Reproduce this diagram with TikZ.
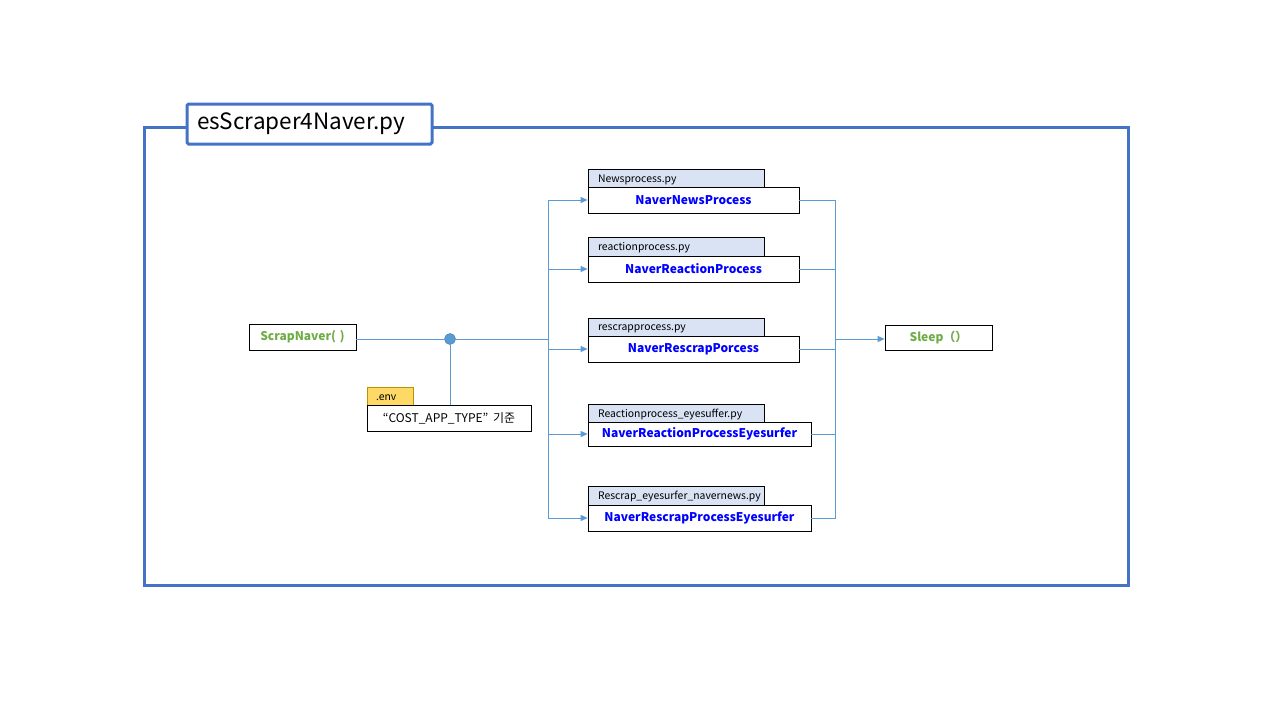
\documentclass[tikz,border=0pt]{standalone}
\usepackage{fontspec}
\setmainfont{Noto Sans CJK KR}
\usetikzlibrary{arrows.meta}
\definecolor{frameblue}{HTML}{4472C4}
\definecolor{lineblue}{HTML}{5B9BD5}
\definecolor{tabfill}{HTML}{DAE3F3}
\definecolor{envfill}{HTML}{FFD966}
\definecolor{envdraw}{HTML}{BF9000}
\definecolor{fgreen}{HTML}{70AD47}
\definecolor{fblue}{HTML}{0000FF}
\tikzset{
  conn/.style={draw=lineblue, line width=0.9pt},
  arr/.style={conn, -{Triangle[length=7pt,width=6pt]}, lineblue},
  tabbox/.style={draw=black, fill=tabfill, line width=0.8pt, minimum height=21pt, text width=156pt, inner xsep=10pt, inner ysep=0pt, align=left, font=\fontsize{10.4}{12}\selectfont},
  mainbox/.style={draw=black, fill=white, line width=0.8pt, minimum height=26pt, inner sep=0pt, font=\bfseries\fontsize{12}{14}\selectfont, text=fblue},
  funcbox/.style={draw=black, fill=white, line width=0.8pt, minimum width=107pt, inner sep=0pt, font=\bfseries\fontsize{12}{14}\selectfont, text=fgreen},
}
\begin{document}
\begin{tikzpicture}[x=1pt,y=-1pt]
\useasboundingbox (0,0) rectangle (1280,720);
\fill[white] (0,0) rectangle (1280,720);
% frame
\draw[frameblue, line width=3pt] (144,127) rectangle (1128,585);
\node[draw=frameblue, line width=3pt, fill=white, rounded corners=1.5pt, minimum width=245pt, minimum height=40pt, text width=225pt, inner xsep=10pt, align=left, font=\fontsize{22.5}{26}\selectfont] (title) at (309.5,124) {esScraper4Naver.py};

% left side
\node[funcbox, minimum height=26pt] (scrap) at (302.5,337) {ScrapNaver(\,\,)};
\node[circle, fill=lineblue, draw=lineblue!80!black, line width=0.5pt, minimum size=11pt, inner sep=0pt] (dot) at (450,339) {};
\node[draw=envdraw, fill=envfill, line width=0.8pt, minimum width=46pt, minimum height=21pt, text width=28pt, inner xsep=9pt, inner ysep=0pt, align=left, font=\fontsize{10.4}{12}\selectfont] (envtab) at (390,397.5) {.env};
\node[draw=black, fill=white, line width=0.8pt, minimum width=164pt, minimum height=26pt, inner sep=0pt, font=\fontsize{12}{14}\selectfont] (envmain) at (449,418) {“COST\_APP\_TYPE”\, 기준};

\coordinate (tj) at (548,339);
\draw[conn] (scrap.east |- dot) -- (dot);
\draw[conn] (dot) -- (tj);
\draw[conn] (dot) -- (dot |- envmain.north);

% process boxes
\node[tabbox] (t1) at (676,179.5) {Newsprocess.py};
\node[mainbox, minimum width=211pt] (m1) at (693.5,200) {NaverNewsProcess};
\node[tabbox] (t2) at (676,247.5) {reactionprocess.py};
\node[mainbox, minimum width=211pt] (m2) at (693.5,269) {NaverReactionProcess};
\node[tabbox] (t3) at (676,328.5) {rescrapprocess.py};
\node[mainbox, minimum width=211pt] (m3) at (693.5,349) {NaverRescrapPorcess};
\node[tabbox] (t4) at (676,414.5) {Reactionprocess\_eyesuffer.py};
\node[mainbox, minimum width=223pt, minimum height=24pt] (m4) at (699.5,434) {NaverReactionProcessEyesurfer};
\node[tabbox] (t5) at (676,496.5) {Rescrap\_eyesurfer\_navernews.py};
\node[mainbox, minimum width=223pt] (m5) at (699.5,518) {NaverRescrapProcessEyesurfer};

\foreach \m in {m1,m2,m3,m4,m5} {
  \draw[arr] (tj) |- (\m.west);
}

% right side
\coordinate (rj) at (835,339);
\foreach \m in {m1,m2,m3,m4,m5} {
  \draw[conn] (\m.east) -| (rj);
}
\node[funcbox, minimum height=25pt, font=\fontsize{12}{14}\selectfont\bfseries] (sleep) at (938.5,337.5) {Sleep（）};
\draw[arr] (rj) -- (sleep.west |- rj);
\end{tikzpicture}
\end{document}
